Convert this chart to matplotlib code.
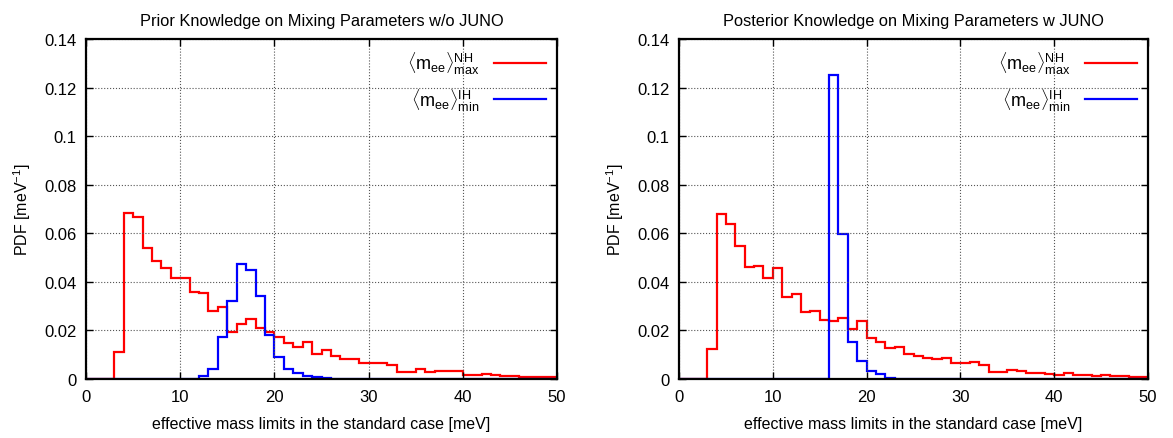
import matplotlib
matplotlib.use('Agg')
import matplotlib.pyplot as plt
import numpy as np

plt.rcParams['font.family'] = ['Liberation Sans', 'DejaVu Sans']
plt.rcParams['mathtext.fontset'] = 'custom'
plt.rcParams['mathtext.rm'] = 'Liberation Sans'
plt.rcParams['mathtext.it'] = 'Liberation Sans'

# bin edges in meV (1 meV bins)
edges = np.arange(0, 51)

prior_nh = [0, 0, 0, 0.0112, 0.0682, 0.0666, 0.0538, 0.0485, 0.0457, 0.0417,
            0.0415, 0.0357, 0.0355, 0.0280, 0.0295, 0.0192, 0.0226, 0.0247, 0.0210, 0.0195,
            0.0172, 0.0149, 0.0132, 0.0151, 0.0105, 0.0119, 0.0093, 0.0082, 0.0082, 0.0066,
            0.0065, 0.0067, 0.0058, 0.0030, 0.0027, 0.0041, 0.0027, 0.0032, 0.0032, 0.0032,
            0.0018, 0.0018, 0.0020, 0.0016, 0.0011, 0.0012, 0.0010, 0.0010, 0.0007, 0.0007]
prior_ih = [0] * 12 + [0.0014, 0.0041, 0.0174, 0.0320, 0.0472, 0.0449, 0.0342, 0.0181,
                       0.0090, 0.0041, 0.0024, 0.0014, 0.0008, 0.0004] + [0] * 24

post_nh = [0, 0, 0, 0.0124, 0.0680, 0.0637, 0.0548, 0.0462, 0.0467, 0.0417,
           0.0457, 0.0336, 0.0350, 0.0277, 0.0281, 0.0242, 0.0240, 0.0251, 0.0205, 0.0238,
           0.0170, 0.0154, 0.0126, 0.0131, 0.0103, 0.0094, 0.0086, 0.0084, 0.0088, 0.0065,
           0.0066, 0.0068, 0.0059, 0.0030, 0.0027, 0.0038, 0.0032, 0.0026, 0.0026, 0.0022,
           0.0018, 0.0023, 0.0016, 0.0018, 0.0014, 0.0016, 0.0012, 0.0011, 0.0007, 0.0007]
post_ih = [0] * 16 + [0.1250, 0.0596, 0.0151, 0.0074, 0.0034, 0.0020, 0.0005] + [0] * 27

titles = ['Prior Knowledge on Mixing Parameters w/o JUNO',
          'Posterior Knowledge on Mixing Parameters w JUNO']
xticks = [0, 10, 20, 30, 40, 50]
yticks = [0, 0.02, 0.04, 0.06, 0.08, 0.1, 0.12, 0.14]
ytick_labels = ['0', '0.02', '0.04', '0.06', '0.08', '0.1', '0.12', '0.14']

label_nh = r'$\langle\mathrm{m}_{\mathrm{ee}}\rangle^{\mathrm{NH}}_{\mathrm{max}}$'
label_ih = r'$\langle\mathrm{m}_{\mathrm{ee}}\rangle^{\mathrm{IH}}_{\mathrm{min}}$'

fig = plt.figure(figsize=(11.73, 4.39), dpi=100)
ax1 = fig.add_axes([86 / 1173, 1 - 380 / 439, (557 - 86) / 1173, 340 / 439])
ax2 = fig.add_axes([679 / 1173, 1 - 380 / 439, (1148 - 679) / 1173, 340 / 439])

for ax, nh, ih, title in [(ax1, prior_nh, prior_ih, titles[0]),
                          (ax2, post_nh, post_ih, titles[1])]:
    ax.stairs(nh, edges, color='#ff0000', lw=1.6, baseline=0, label=label_nh)
    ax.stairs(ih, edges, color='#0000ff', lw=1.6, baseline=0, label=label_ih)
    ax.set_xlim(0, 50)
    ax.set_ylim(0, 0.14)
    ax.set_xticks(xticks)
    ax.set_yticks(yticks)
    ax.set_yticklabels(ytick_labels)
    ax.tick_params(direction='in', top=True, right=True, length=5, width=1,
                   labelsize=12, pad=7)
    ax.grid(True, ls=':', color='#555555', lw=0.8)
    for s in ax.spines.values():
        s.set_linewidth(1.6)
    ax.set_title(title, fontsize=11.8, pad=10)
    ax.set_xlabel('effective mass limits in the standard case [meV]', fontsize=11.5, labelpad=9)
    ax.set_ylabel(r'PDF [meV$^{\mathrm{-1}}$]', fontsize=11.5, labelpad=8)
    ax.legend(loc='upper right', frameon=False, markerfirst=False, fontsize=13,
              handlelength=2.9, labelspacing=0.55, borderaxespad=0.2)

fig.savefig('out.png', dpi=100)
